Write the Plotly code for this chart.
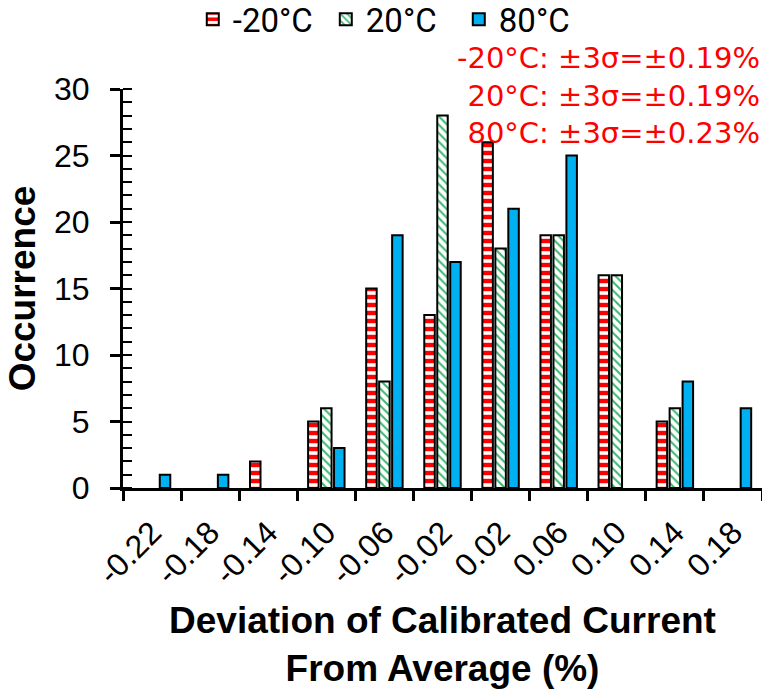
import plotly.graph_objects as go

# Histogram bins of calibrated-current deviation (%)
bins = ["-0.22", "-0.18", "-0.14", "-0.10", "-0.06", "-0.02",
        "0.02", "0.06", "0.10", "0.14", "0.18"]

# Occurrence counts per temperature
cold = [0, 0, 2, 5, 15, 13, 26, 19, 16, 5, 0]      # -20°C
room = [0, 0, 0, 6, 8, 28, 18, 19, 16, 6, 0]       # 20°C
hot = [1, 1, 0, 3, 19, 17, 21, 25, 0, 8, 6]        # 80°C

series_names = ["-20°C", "20°C", "80°C"]
sigma_notes = ["-20°C: ±3σ=±0.19%", "20°C: ±3σ=±0.19%", "80°C: ±3σ=±0.23%"]

TICK_FONT = dict(family="Liberation Sans, Arial", size=32, color="black")
TITLE_FONT = dict(family="Liberation Sans, Arial", size=37, color="black")
LEGEND_FONT = dict(family="Roboto", size=33, color="black")
OUTLINE = dict(color="black", width=2)


def nonempty(values):
    # empty bins are left out so they leave no outline stub on the axis
    return [v if v > 0 else None for v in values]


fig = go.Figure()

fig.add_trace(go.Bar(
    x=bins, y=nonempty(cold), name=series_names[0],
    marker=dict(color="#FF0000", line=OUTLINE,
                pattern=dict(shape="-", fgcolor="white", bgcolor="#FF0000",
                             size=8, solidity=0.45, fillmode="replace")),
))
fig.add_trace(go.Bar(
    x=bins, y=nonempty(room), name=series_names[1],
    marker=dict(color="white", line=OUTLINE,
                pattern=dict(shape="\\", fgcolor="#3DB872", bgcolor="white",
                             size=6, solidity=0.35, fillmode="replace")),
))
fig.add_trace(go.Bar(
    x=bins, y=nonempty(hot), name=series_names[2],
    marker=dict(color="#00B0F0", line=OUTLINE),
))

n = len(bins)

fig.update_layout(
    width=762, height=689,
    margin=dict(l=123, r=0, t=89, b=201),
    paper_bgcolor="white", plot_bgcolor="white",
    barmode="group", bargap=0.33, bargroupgap=0.19,
    showlegend=True,
    legend=dict(orientation="h", xref="container", x=0.253, xanchor="left",
                yref="container", y=0.972, yanchor="middle",
                font=LEGEND_FONT, itemwidth=30, entrywidth=88,
                traceorder="normal", bgcolor="rgba(0,0,0,0)"),
    xaxis=dict(
        type="category", range=[-0.5, n - 0.5], automargin=False,
        tickson="boundaries", ticks="outside", ticklen=10, tickwidth=2.5,
        tickcolor="black", showline=True, linecolor="black", linewidth=3,
        showgrid=False, tickangle=-45, tickfont=TICK_FONT,
        ticklabelstandoff=10,
        title=dict(text="<b>Deviation of Calibrated Current<br>From Average (%)</b>",
                   font=TITLE_FONT, standoff=18),
    ),
    xaxis2=dict(
        overlaying="x", anchor="y", range=[-0.5, n - 0.5],
        tickvals=[i + 0.5 for i in range(n - 1)],
        ticks="inside", ticklen=10, tickwidth=2.5, tickcolor="black",
        showticklabels=False, showgrid=False, showline=False, zeroline=False,
    ),
    yaxis=dict(
        range=[0, 30], dtick=5, ticks="outside", ticklen=10, tickwidth=2.5,
        tickcolor="black", showline=True, linecolor="black", linewidth=3,
        showgrid=False, zeroline=False, tickfont=TICK_FONT, automargin=False,
        ticklabelstandoff=14,
        minor=dict(dtick=1, ticks="inside", ticklen=9, tickwidth=2,
                   tickcolor="black", showgrid=False),
        title=dict(text="<b>Occurrence</b>", font=TITLE_FONT, standoff=8),
    ),
    yaxis2=dict(
        overlaying="y", anchor="x", range=[0, 30], dtick=5,
        ticks="inside", ticklen=10, tickwidth=2.5, tickcolor="black",
        showticklabels=False, showgrid=False, showline=False, zeroline=False,
    ),
)

fig.add_annotation(
    xref="paper", yref="paper", x=1.0, y=1.125, xanchor="right", yanchor="top",
    text="<br>".join(sigma_notes), align="right", showarrow=False,
    font=dict(family="DejaVu Sans", size=29, color="#FF0000"),
)

fig.write_html("out.html")
